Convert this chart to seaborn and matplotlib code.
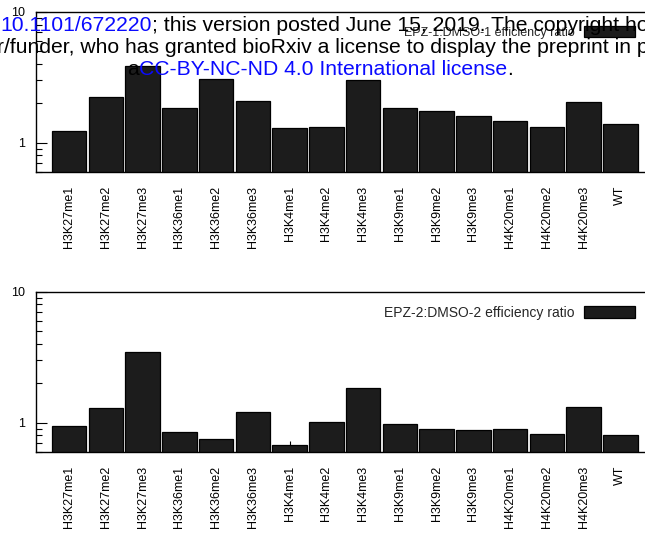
import numpy as np
import pandas as pd
import matplotlib
matplotlib.use("Agg")
import matplotlib.pyplot as plt
import seaborn as sns
from matplotlib.ticker import FixedLocator, LogLocator, FuncFormatter, NullFormatter

# ---------------- data ----------------
categories = ["H3K27me1", "H3K27me2", "H3K27me3", "H3K36me1", "H3K36me2", "H3K36me3",
              "H3K4me1", "H3K4me2", "H3K4me3", "H3K9me1", "H3K9me2", "H3K9me3",
              "H4K20me1", "H4K20me2", "H4K20me3", "WT"]
ratio_epz1 = [1.23, 2.23, 3.85, 1.84, 3.06, 2.07, 1.30, 1.32, 3.01, 1.83, 1.74, 1.60,
              1.46, 1.32, 2.06, 1.40]
ratio_epz2 = [0.944, 1.29, 3.46, 0.845, 0.747, 1.21, 0.672, 1.007, 1.83, 0.98, 0.90, 0.875,
              0.895, 0.815, 1.32, 0.80]
legend_labels = ["EPZ-1:DMSO-1 efficiency ratio", "EPZ-2:DMSO-2 efficiency ratio"]
y_ticks = [1, 10]

header_line1 = [("10.1101/672220", "#0a0aff"),
                ("; this version posted June 15, 2019. The copyright holder for this preprint", "black")]
header_line2 = [("r/funder, who has granted bioRxiv a license to display the preprint in perpetuity.", "black")]
header_line3 = [("a", "black"), ("CC-BY-NC-ND 4.0 International license", "#0a0aff"), (".", "black")]

# ---------------- style ----------------
sns.set_theme(style="ticks")
plt.rcParams["font.family"] = ["Liberation Sans", "DejaVu Sans"]

W, H = 645, 535
fig = plt.figure(figsize=(W / 100, H / 100), dpi=100)


def px_axes(left, top, right, bottom):
    return fig.add_axes([left / W, 1 - bottom / H, (right - left) / W, (bottom - top) / H])


ax1 = px_axes(36, 12, 653.5, 171.7)
ax2 = px_axes(36, 291.7, 653.5, 451.7)

BAR = "#1c1c1c"
for ax, vals, lab, lfs in [(ax1, ratio_epz1, legend_labels[0], 9),
                           (ax2, ratio_epz2, legend_labels[1], 10)]:
    df = pd.DataFrame({"category": categories, "ratio": vals})
    sns.barplot(data=df, x="category", y="ratio", ax=ax, color=BAR, saturation=1,
                width=0.94, edgecolor="black", linewidth=0.9, label=lab)
    ax.set_yscale("log")
    ax.set_ylim(0.6, 10)
    ax.set_xlim(-0.9, 15.9)
    ax.set_xlabel("")
    ax.set_ylabel("")
    ax.yaxis.set_major_locator(FixedLocator(y_ticks))
    ax.yaxis.set_major_formatter(FuncFormatter(lambda v, p: f"{v:g}"))
    ax.yaxis.set_minor_locator(LogLocator(base=10, subs=np.arange(2, 10) * 1.0, numticks=20))
    ax.yaxis.set_minor_formatter(NullFormatter())
    ax.tick_params(axis="y", which="major", direction="in", length=7.7, width=0.8,
                   labelsize=9, pad=8, color="black", labelcolor="black")
    ax.tick_params(axis="y", which="minor", direction="in", length=4, width=0.8, color="black")
    ax.tick_params(axis="x", which="major", direction="in", length=7.7, width=0.8,
                   labelsize=9, pad=10, labelrotation=90, color="black", labelcolor="black")
    ax.tick_params(which="both", top=False, right=False)
    for s in ax.spines.values():
        s.set_color("black")
        s.set_linewidth(1.0)
    fs_px = lfs * 100 / 72
    ax.legend(loc="upper right", bbox_to_anchor=(1 - 18.5 / 617.5, 1 - 14 / 159.7),
              frameon=False, markerfirst=False, fontsize=lfs,
              handlelength=51 / fs_px, handleheight=12 / fs_px, handletextpad=9 / fs_px,
              borderpad=0, borderaxespad=0)

# ---------------- bioRxiv header overlay ----------------
renderer = fig.canvas.get_renderer()
HFS = 15.2


def chain(parts, x_px, base_px):
    x = x_px / W
    for s, c in parts:
        t = fig.text(x, 1 - base_px / H, s, color=c, fontsize=HFS, ha="left",
                     va="baseline", zorder=10)
        bb = t.get_window_extent(renderer)
        x = bb.x1 / W


chain(header_line1, 0, 31)
chain(header_line2, -3, 53)
chain(header_line3, 127.6, 75)

fig.savefig("out.png", dpi=100)
